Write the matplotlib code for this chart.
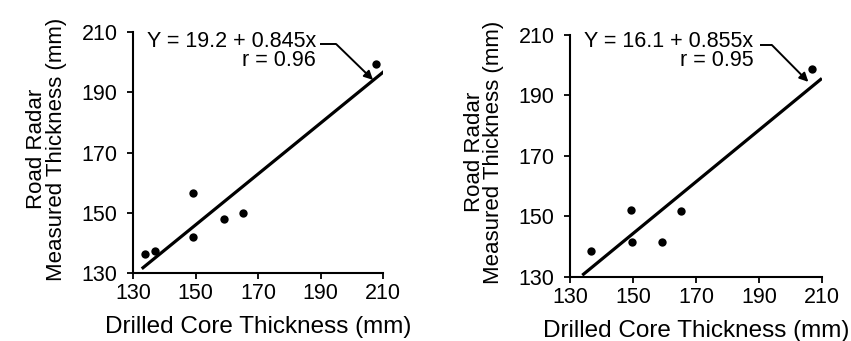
import numpy as np
import matplotlib
matplotlib.use('Agg')
import matplotlib.pyplot as plt

plt.rcParams['font.family'] = ['Liberation Sans', 'DejaVu Sans']

# left panel
core_a = [133.8, 137.0, 149.3, 149.1, 159.1, 165.3, 207.7]
radar_a = [136.2, 137.4, 156.5, 142.0, 148.0, 150.0, 199.3]
fit_a = (19.2, 0.845)
label_a = 'Y = 19.2 + 0.845x\nr = 0.96'

# right panel
core_b = [136.7, 149.4, 149.6, 159.1, 165.2, 206.8]
radar_b = [138.6, 152.3, 141.6, 141.6, 151.8, 198.9]
fit_b = (16.1, 0.855)
label_b = 'Y = 16.1 + 0.855x\nr = 0.95'

ticks = [130, 150, 170, 190, 210]


def panel(ax, xs, ys, fit, label, line_x, text_xy, elbow, tip, ylab_x):
    ax.scatter(xs, ys, s=36, color='black', zorder=3, linewidths=0)
    lx = np.array(line_x)
    ax.plot(lx, fit[0] + fit[1] * lx, color='black', lw=2.3, solid_capstyle='butt')
    ax.set_xlim(130, 210)
    ax.set_ylim(130, 210)
    ax.set_xticks(ticks)
    ax.set_yticks(ticks)
    ax.spines['top'].set_visible(False)
    ax.spines['right'].set_visible(False)
    ax.spines['left'].set_linewidth(1.5)
    ax.spines['bottom'].set_linewidth(1.5)
    ax.tick_params(axis='both', direction='out', length=4, width=1.3, labelsize=15.5)
    ax.tick_params(axis='y', pad=7)
    ax.tick_params(axis='x', pad=3)
    ax.set_xlabel('Drilled Core Thickness (mm)', fontsize=17.5)
    ax.xaxis.set_label_coords(0.5, -0.225)
    ax.xaxis.label.set_va('center')
    ax.set_ylabel('Road Radar\nMeasured Thickness (mm)', fontsize=16, linespacing=0.9)
    ax.yaxis.set_label_coords(ylab_x, 0.515)
    ax.yaxis.label.set_va('center')
    ax.text(text_xy[0], text_xy[1], label, ha='right', va='top', fontsize=15.5,
            multialignment='right', linespacing=0.88, clip_on=False)
    ax.plot([elbow[0], elbow[1]], [elbow[2], elbow[2]], color='black', lw=1.4,
            clip_on=False, solid_capstyle='butt')
    ax.annotate('', xy=tip, xytext=(elbow[1], elbow[2]), annotation_clip=False,
                arrowprops=dict(arrowstyle='-|>', color='black', lw=1.4,
                                mutation_scale=13, shrinkA=0, shrinkB=0))


fig = plt.figure(figsize=(8.51, 3.41), dpi=100)
ax1 = fig.add_axes([0.1563, 0.1994, 0.2938, 0.7067])
ax2 = fig.add_axes([0.6698, 0.1877, 0.2960, 0.7097])

panel(ax1, core_a, radar_a, fit_a, label_a, [132.8, 211.2],
      (188.5, 210.3), (189.8, 195.0, 206.0), (206.8, 194.1), -0.346)
panel(ax2, core_b, radar_b, fit_b, label_b, [133.9, 210.0],
      (188.3, 211.3), (190.4, 194.1, 206.7), (205.7, 194.5), -0.341)

fig.savefig('out.png', dpi=100)
